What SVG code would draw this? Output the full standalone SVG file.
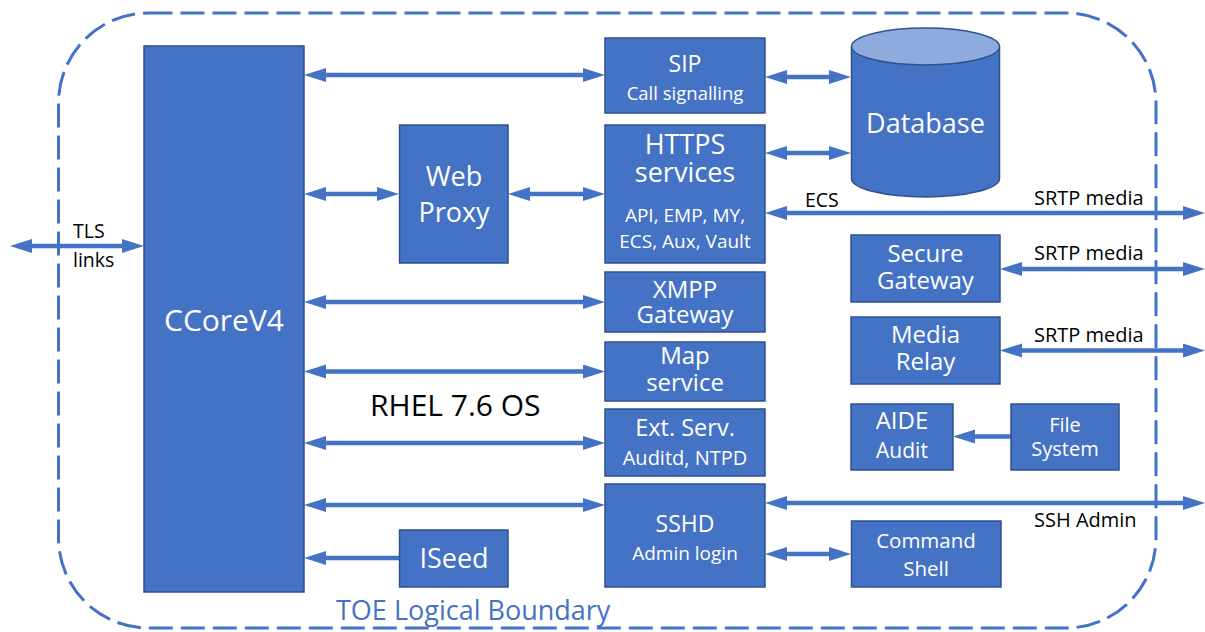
<svg xmlns="http://www.w3.org/2000/svg" width="1205" height="632" viewBox="0 0 1205 632">
  <style>
    .box { fill: #4472C4; stroke: #2F528F; stroke-width: 1.5; }
    .lbl { fill: #FFFFFF; font-family: "Open Sans", "Noto Sans", "Liberation Sans", sans-serif; text-anchor: middle; }
    .note { fill: #000000; font-family: "Open Sans", "Noto Sans", "Liberation Sans", sans-serif; }
    .link { stroke: #4472C4; stroke-width: 4.5; fill: none; }
  </style>
  <defs>
    <marker id="head" markerUnits="userSpaceOnUse" markerWidth="24" markerHeight="16" refX="2" refY="7" orient="auto-start-reverse">
      <path d="M0,0 L22,7 L0,14 z" fill="#4472C4"/>
    </marker>
  </defs>

  <rect width="1205" height="632" fill="#FFFFFF"/>

  <!-- TOE boundary -->
  <g id="boundary">
    <rect x="58.5" y="13" width="1097.5" height="615" rx="90" ry="90" fill="none" stroke="#4472C4" stroke-width="3" stroke-dasharray="24 8"/>
    <text x="336" y="620" font-family="'Open Sans', 'Noto Sans', 'Liberation Sans', sans-serif" font-size="27" fill="#4472C4">TOE Logical Boundary</text>
  </g>

  <!-- connectors -->
  <g id="connectors">
    <line class="link" x1="324" y1="75" x2="585" y2="75" marker-start="url(#head)" marker-end="url(#head)"/>
    <line class="link" x1="324" y1="194" x2="379" y2="194" marker-start="url(#head)" marker-end="url(#head)"/>
    <line class="link" x1="528" y1="194" x2="585" y2="194" marker-start="url(#head)" marker-end="url(#head)"/>
    <line class="link" x1="324" y1="302" x2="585" y2="302" marker-start="url(#head)" marker-end="url(#head)"/>
    <line class="link" x1="324" y1="371.5" x2="585" y2="371.5" marker-start="url(#head)" marker-end="url(#head)"/>
    <line class="link" x1="324" y1="443" x2="585" y2="443" marker-start="url(#head)" marker-end="url(#head)"/>
    <line class="link" x1="324" y1="505" x2="585" y2="505" marker-start="url(#head)" marker-end="url(#head)"/>
    <line class="link" x1="399" y1="558" x2="324" y2="558" marker-end="url(#head)"/>
    <line class="link" x1="30" y1="246" x2="124" y2="246" marker-start="url(#head)" marker-end="url(#head)"/>
    <line class="link" x1="785" y1="77" x2="831" y2="77" marker-start="url(#head)" marker-end="url(#head)"/>
    <line class="link" x1="785" y1="153" x2="831" y2="153" marker-start="url(#head)" marker-end="url(#head)"/>
    <line class="link" x1="785" y1="213" x2="1185" y2="213" marker-start="url(#head)" marker-end="url(#head)"/>
    <line class="link" x1="1020" y1="269" x2="1185" y2="269" marker-start="url(#head)" marker-end="url(#head)"/>
    <line class="link" x1="1020" y1="350.5" x2="1185" y2="350.5" marker-start="url(#head)" marker-end="url(#head)"/>
    <line class="link" x1="1011" y1="436.5" x2="973" y2="436.5" marker-end="url(#head)"/>
    <line class="link" x1="785" y1="503" x2="1185" y2="503" marker-start="url(#head)" marker-end="url(#head)"/>
    <line class="link" x1="785" y1="554" x2="831" y2="554" marker-start="url(#head)" marker-end="url(#head)"/>
  </g>

  <!-- connector labels -->
  <g id="labels">
    <text class="note" x="73" y="238" font-size="19.5">TLS</text>
    <text class="note" x="73" y="267" font-size="19.5">links</text>
    <text class="note" x="805" y="207" font-size="19.5">ECS</text>
    <text class="note" x="1034" y="205" font-size="20">SRTP media</text>
    <text class="note" x="1034" y="260" font-size="20">SRTP media</text>
    <text class="note" x="1034" y="342" font-size="20">SRTP media</text>
    <text class="note" x="1034" y="527" font-size="20">SSH Admin</text>
    <text class="note" x="370" y="416" font-size="30">RHEL 7.6 OS</text>
  </g>

  <g id="ccore">
    <rect class="box" x="144" y="46" width="160" height="546"/>
    <text class="lbl" x="224" y="331" font-size="30">CCoreV4</text>
  </g>

  <g id="webproxy">
    <rect class="box" x="399.5" y="125" width="108.5" height="138"/>
    <text class="lbl" x="454" y="186" font-size="27">Web</text>
    <text class="lbl" x="454" y="222" font-size="27">Proxy</text>
  </g>

  <g id="iseed">
    <rect class="box" x="399.5" y="530" width="108.5" height="57"/>
    <text class="lbl" x="454" y="568" font-size="27">ISeed</text>
  </g>

  <g id="sip">
    <rect class="box" x="605" y="38" width="160" height="75"/>
    <text class="lbl" x="685" y="72" font-size="23">SIP</text>
    <text class="lbl" x="685" y="100" font-size="18.5">Call signalling</text>
  </g>

  <g id="https">
    <rect class="box" x="605" y="125" width="160" height="138"/>
    <text class="lbl" x="685" y="154" font-size="27">HTTPS</text>
    <text class="lbl" x="685" y="182" font-size="27">services</text>
    <text class="lbl" x="685" y="222" font-size="19">API, EMP, MY,</text>
    <text class="lbl" x="685" y="248" font-size="19">ECS, Aux, Vault</text>
  </g>

  <g id="xmpp">
    <rect class="box" x="605" y="272" width="160" height="60"/>
    <text class="lbl" x="685" y="298" font-size="24">XMPP</text>
    <text class="lbl" x="685" y="323" font-size="24">Gateway</text>
  </g>

  <g id="map">
    <rect class="box" x="605" y="342" width="160" height="59"/>
    <text class="lbl" x="685" y="364" font-size="24">Map</text>
    <text class="lbl" x="685" y="391" font-size="24">service</text>
  </g>

  <g id="extserv">
    <rect class="box" x="605" y="409" width="160" height="67"/>
    <text class="lbl" x="685" y="436" font-size="23.5">Ext. Serv.</text>
    <text class="lbl" x="685" y="465" font-size="20">Auditd, NTPD</text>
  </g>

  <g id="sshd">
    <rect class="box" x="605" y="484" width="160" height="103"/>
    <text class="lbl" x="685" y="532" font-size="23">SSHD</text>
    <text class="lbl" x="685" y="560" font-size="19">Admin login</text>
  </g>

  <g id="database">
    <path d="M851.5,46.5 L851.5,178.5 A74,18.5 0 0 0 999.5,178.5 L999.5,46.5" class="box"/>
    <ellipse cx="925.5" cy="46.5" rx="74" ry="18.5" fill="#8FAADC" stroke="#2F528F" stroke-width="1.5"/>
    <text class="lbl" x="925.5" y="133" font-size="27">Database</text>
  </g>

  <g id="securegw">
    <rect class="box" x="851" y="235" width="149" height="67"/>
    <text class="lbl" x="925.5" y="262" font-size="24">Secure</text>
    <text class="lbl" x="925.5" y="289" font-size="24">Gateway</text>
  </g>

  <g id="mediarelay">
    <rect class="box" x="851" y="317" width="149" height="67"/>
    <text class="lbl" x="925.5" y="343" font-size="24">Media</text>
    <text class="lbl" x="925.5" y="370" font-size="24">Relay</text>
  </g>

  <g id="aide">
    <rect class="box" x="851" y="404" width="102" height="66"/>
    <text class="lbl" x="902" y="429" font-size="24">AIDE</text>
    <text class="lbl" x="902" y="458" font-size="21">Audit</text>
  </g>

  <g id="filesystem">
    <rect class="box" x="1011" y="404" width="108" height="66"/>
    <text class="lbl" x="1065" y="432" font-size="20">File</text>
    <text class="lbl" x="1065" y="456" font-size="20">System</text>
  </g>

  <g id="cmdshell">
    <rect class="box" x="851.5" y="521" width="149.5" height="66"/>
    <text class="lbl" x="926" y="548" font-size="20.5">Command</text>
    <text class="lbl" x="926" y="576" font-size="20.5">Shell</text>
  </g>
</svg>
